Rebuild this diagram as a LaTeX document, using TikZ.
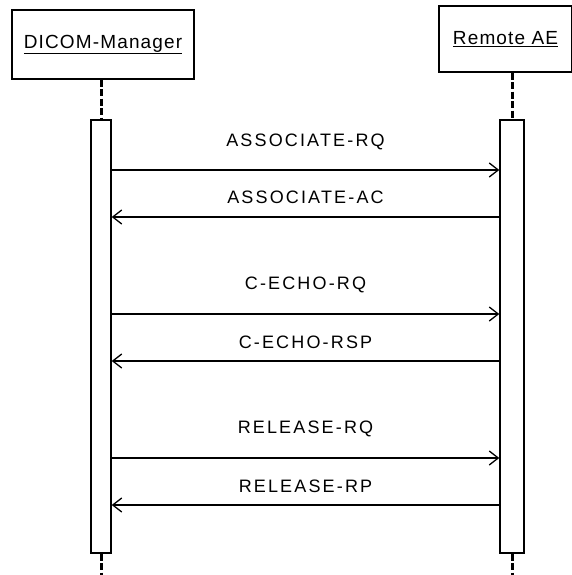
\documentclass[tikz,border=0pt]{standalone}
\usepackage{fontspec}
\newfontfamily\seqfont{Liberation Sans}[LetterSpace=6]
\newfontfamily\msgfont{Liberation Sans}[LetterSpace=12]
\usetikzlibrary{arrows.meta}

\begin{document}
\begin{tikzpicture}[
  x=1pt, y=-1pt,
  obj/.style={draw, line width=1.4pt, minimum width=182pt, minimum height=69pt,
              inner sep=0pt, font=\seqfont\fontsize{19}{22}\selectfont},
  bar/.style={draw, line width=1.4pt, minimum width=20pt, minimum height=433pt,
              inner sep=0pt, fill=white},
  life/.style={line width=3pt, dash pattern=on 7pt off 2.5pt},
  msg/.style={line width=1.3pt, -{Straight Barb[length=9pt, width=14pt, line width=1.3pt]}},
  lbl/.style={font=\msgfont\fontsize{18}{21}\selectfont, inner sep=0pt}
]
  \useasboundingbox (0,0) rectangle (572,575);

  % objects
  \node[obj] (mgr) at (103,44.5) {\underline{DICOM-Manager}};
  \node[obj, minimum width=133pt, minimum height=66pt] (ae) at (505.5,39) {\underline{Remote AE}};

  % activation bars
  \node[bar] (mgrbar) at (101,336.5) {};
  \node[bar, minimum width=24pt] (aebar) at (512,336.5) {};

  % lifelines
  \coordinate (mgrend) at (101,575);
  \coordinate (aeend) at (512,575);
  \draw[life] (mgrbar.north |- mgr.south) -- (mgrbar.north);
  \draw[life] (mgrbar.south) -- (mgrend);
  \draw[life] (aebar.north |- ae.south) -- (aebar.north);
  \draw[life] (aebar.south) -- (aeend);

  % messages
  \foreach \y/\ly/\txt in {170/142/ASSOCIATE-RQ, 314/285/C-ECHO-RQ, 458/429/RELEASE-RQ}
    \draw[msg] (mgrbar.east |- 0,\y) -- node[lbl, pos=0.5, yshift=\y pt-\ly pt] {\txt} (aebar.west |- 0,\y);
  \foreach \y/\ly/\txt in {217/197/ASSOCIATE-AC, 361/342/C-ECHO-RSP, 505/486/RELEASE-RP}
    \draw[msg] (aebar.west |- 0,\y) -- node[lbl, pos=0.5, yshift=\y pt-\ly pt] {\txt} (mgrbar.east |- 0,\y);
\end{tikzpicture}
\end{document}
